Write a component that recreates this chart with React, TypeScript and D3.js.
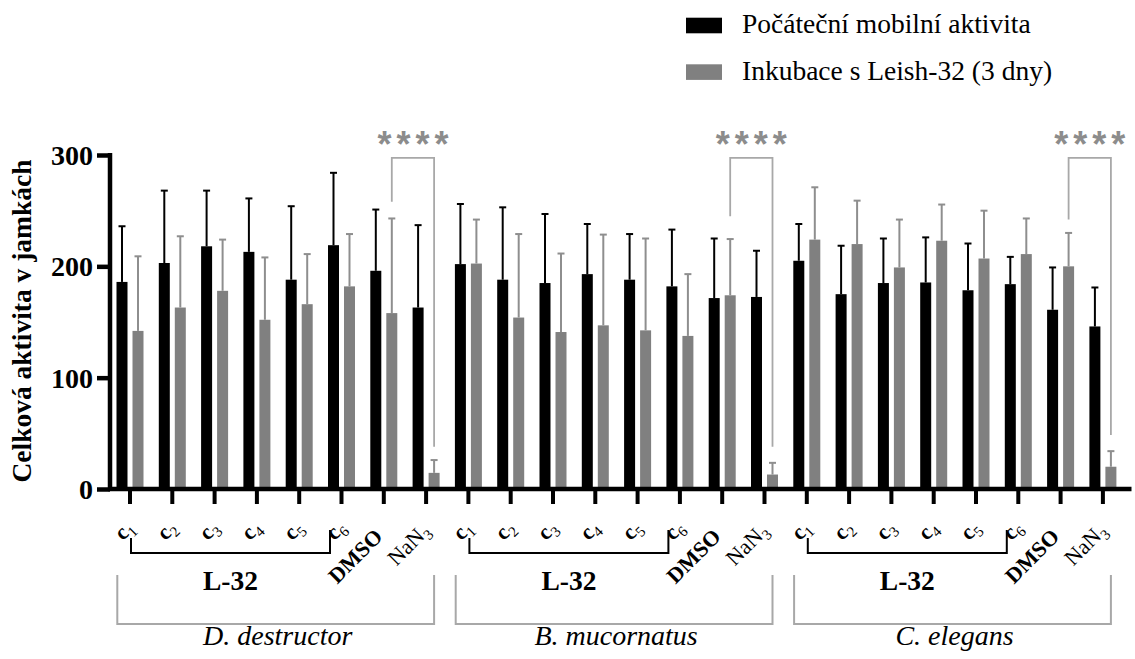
import React, { useEffect, useRef } from 'react';
import * as d3 from 'd3';

// Data
const species = ['D. destructor', 'B. mucornatus', 'C. elegans'];
const treatments = ['c1', 'c2', 'c3', 'c4', 'c5', 'c6', 'DMSO', 'NaN3'];
const seriesNames = ['Počáteční mobilní aktivita', 'Inkubace s Leish-32 (3 dny)'];

const initialMean = [186, 203, 218, 213, 188, 219, 196, 163, 202, 188, 185, 193, 188, 182, 171.5, 172.5, 205, 175, 185, 185.5, 178.5, 184, 161, 146];
const initialSD = [50, 65, 50, 48, 66, 65, 55, 74, 54, 65, 62, 45, 41, 51, 53.5, 41.5, 33, 43.5, 40, 40.5, 42, 24.5, 38, 35];
const incubMean = [142, 163, 178, 152, 166, 182, 158, 14.5, 202.5, 154, 141, 147, 142.5, 137.5, 174, 13, 224, 220, 199, 223, 207, 211, 200, 20];
const incubSD = [67, 64, 46, 56, 45, 47, 85, 11.5, 39.5, 75, 70.5, 81.5, 82.5, 55.5, 50.5, 10.5, 47, 39, 43, 32.5, 43, 32, 30, 14];

const yTicks = [0, 100, 200, 300];
const yLabel = 'Celková aktivita v jamkách';
const groupLabel = 'L-32';

// significance brackets (DMSO vs NaN3, second series)
const sigLabel = '****';
const sigTop = 297.5;
const sigLeftEnd = [258, 245, 242];
const sigRightEnd = [38, 38, 48.5];

const serif = 'Liberation Serif, Times New Roman, serif';
const sans = 'Liberation Sans, Arial, sans-serif';
const colors = ['#000000', '#808080'];
const errColors = ['#000000', '#8e8e8e'];
const bracketGray = '#a8a8a8';

const App = () => {
  const svgRef = useRef(null);

  useEffect(() => {
    const svg = d3.select(svgRef.current);
    svg.selectAll('*').remove();

    const n = species.length * treatments.length;
    const x = d3.scaleBand().domain(d3.range(n)).range([108.85, 1124.05]).padding(0);
    const inner = d3.scaleBand().domain([0, 1]).range([0, x.bandwidth()])
      .paddingInner(0.3125).paddingOuter(0.478);
    const y = d3.scaleLinear().domain([0, 300]).range([489, 155]);
    const bw = inner.bandwidth();
    const tickX = (i) => x(i) + x.bandwidth() / 2;

    const means = [initialMean, incubMean];
    const sds = [initialSD, incubSD];

    // bars
    const barsG = svg.append('g');
    means.forEach((m, k) => {
      barsG.selectAll(null)
        .data(m)
        .enter()
        .append('rect')
        .attr('x', (d, i) => x(i) + inner(k))
        .attr('y', d => y(d))
        .attr('width', bw)
        .attr('height', d => y(0) - y(d))
        .attr('fill', colors[k]);
    });

    // error bars (upper only)
    means.forEach((m, k) => {
      const g = barsG.append('g').attr('stroke', errColors[k]).attr('stroke-width', 2);
      m.forEach((d, i) => {
        const cx = x(i) + inner(k) + bw / 2;
        const top = y(d + sds[k][i]);
        g.append('line').attr('x1', cx).attr('x2', cx).attr('y1', y(d)).attr('y2', top);
        g.append('line').attr('x1', cx - 3.5).attr('x2', cx + 3.5).attr('y1', top).attr('y2', top);
      });
    });

    // y axis
    const yAxis = d3.axisLeft(y).tickValues(yTicks).tickSize(13).tickSizeOuter(0).tickPadding(4);
    const yG = svg.append('g').attr('transform', 'translate(110,0)').call(yAxis);
    yG.select('.domain').attr('stroke-width', 4.5).attr('d', `M0,${y(0) + 2}V${y(300) - 2}`);
    yG.selectAll('.tick line').attr('stroke-width', 4.5);
    yG.selectAll('.tick text')
      .attr('fill', '#000')
      .attr('dy', '0.34em')
      .attr('font-family', serif)
      .attr('font-size', 28)
      .attr('font-weight', 'bold');

    // x axis
    const xAxis = d3.axisBottom(x).tickSize(15).tickSizeOuter(0).tickFormat(() => '');
    const xG = svg.append('g').attr('transform', `translate(0,${y(0)})`).call(xAxis);
    xG.select('.domain').attr('stroke-width', 4.5).attr('d', 'M108,0H1131.5');
    xG.selectAll('.tick line').attr('stroke-width', 4);

    // y label
    svg.append('g')
      .attr('transform', `translate(31,${(y(0) + y(300)) / 2 - 1}) rotate(-90)`)
      .append('text')
      .attr('text-anchor', 'middle')
      .attr('font-family', serif)
      .attr('font-size', 27.5)
      .attr('font-weight', 'bold')
      .text(yLabel);

    // category labels, rotated -45deg, ending at the tick
    const labG = svg.append('g').attr('font-family', serif);
    d3.range(n).forEach(i => {
      const t = treatments[i % treatments.length];
      const tx = tickX(i);
      if (t === 'DMSO') {
        labG.append('g')
          .attr('transform', `translate(${tx.toFixed(2)},538) rotate(-45)`)
          .append('text')
          .attr('text-anchor', 'end')
          .attr('font-size', 22)
          .attr('font-weight', 'bold')
          .text(t);
      } else if (t === 'NaN3') {
        const txt = labG.append('g')
          .attr('transform', `translate(${(tx + 5).toFixed(2)},532) rotate(-45)`)
          .append('text')
          .attr('text-anchor', 'end')
          .attr('font-size', 22);
        txt.append('tspan').text('NaN');
        txt.append('tspan').attr('font-size', 15).attr('dy', 5).text('3');
      } else {
        const txt = labG.append('g')
          .attr('transform', `translate(${(tx + 5.3).toFixed(2)},529) rotate(-45)`)
          .append('text')
          .attr('text-anchor', 'end')
          .attr('font-size', 22);
        txt.append('tspan').attr('font-weight', 'bold').text('c');
        txt.append('tspan').attr('font-size', 15).attr('dy', 5).text(t.slice(1));
      }
    });

    // group brackets and species labels
    species.forEach((sp, s) => {
      const first = s * treatments.length;
      const l = tickX(first) + 1;
      const r = tickX(first + 5) - 11.5;
      svg.append('path')
        .attr('d', `M${l},538V553H${r}V530`)
        .attr('fill', 'none')
        .attr('stroke', '#000')
        .attr('stroke-width', 2);
      svg.append('text')
        .attr('x', (l + r) / 2)
        .attr('y', 590)
        .attr('text-anchor', 'middle')
        .attr('font-family', serif)
        .attr('font-size', 27.5)
        .attr('font-weight', 'bold')
        .text(groupLabel);

      const gl = tickX(first) - 12.7;
      const gr = tickX(first + 7) + 8;
      svg.append('path')
        .attr('d', `M${gl},575V624H${gr}V575`)
        .attr('fill', 'none')
        .attr('stroke', bracketGray)
        .attr('stroke-width', 2);
      svg.append('text')
        .attr('x', (gl + gr) / 2 + 2)
        .attr('y', 645)
        .attr('text-anchor', 'middle')
        .attr('font-family', serif)
        .attr('font-size', 28)
        .attr('font-style', 'italic')
        .text(sp);

      // significance
      const xl = x(first + 6) + inner(1) + bw / 2;
      const xr = x(first + 7) + inner(1) + bw / 2;
      svg.append('path')
        .attr('d', `M${xl},${y(sigLeftEnd[s])}V${y(sigTop)}H${xr}V${y(sigRightEnd[s])}`)
        .attr('fill', 'none')
        .attr('stroke', bracketGray)
        .attr('stroke-width', 1.8);
      svg.append('text')
        .attr('x', (xl + xr) / 2 + 2.5)
        .attr('y', y(sigTop) - 1)
        .attr('text-anchor', 'middle')
        .attr('font-family', sans)
        .attr('font-weight', 'bold')
        .attr('font-size', 36)
        .attr('letter-spacing', 5)
        .attr('fill', '#8c8c8c')
        .text(sigLabel);
    });

    // legend
    const legG = svg.append('g');
    seriesNames.forEach((name, k) => {
      const yy = 17.7 + k * 46.6;
      legG.append('rect').attr('x', 686).attr('y', yy).attr('width', 36).attr('height', 15.6).attr('fill', colors[k]);
      legG.append('text')
        .attr('x', 742)
        .attr('y', yy + 15.6)
        .attr('font-family', serif)
        .attr('font-size', 27.5)
        .text(name);
    });
  }, []);

  return (
    <svg ref={svgRef} width={1135} height={659}
      style={{ position: 'absolute', left: 0, top: 0, background: '#fff' }} />
  );
};

export default App;
